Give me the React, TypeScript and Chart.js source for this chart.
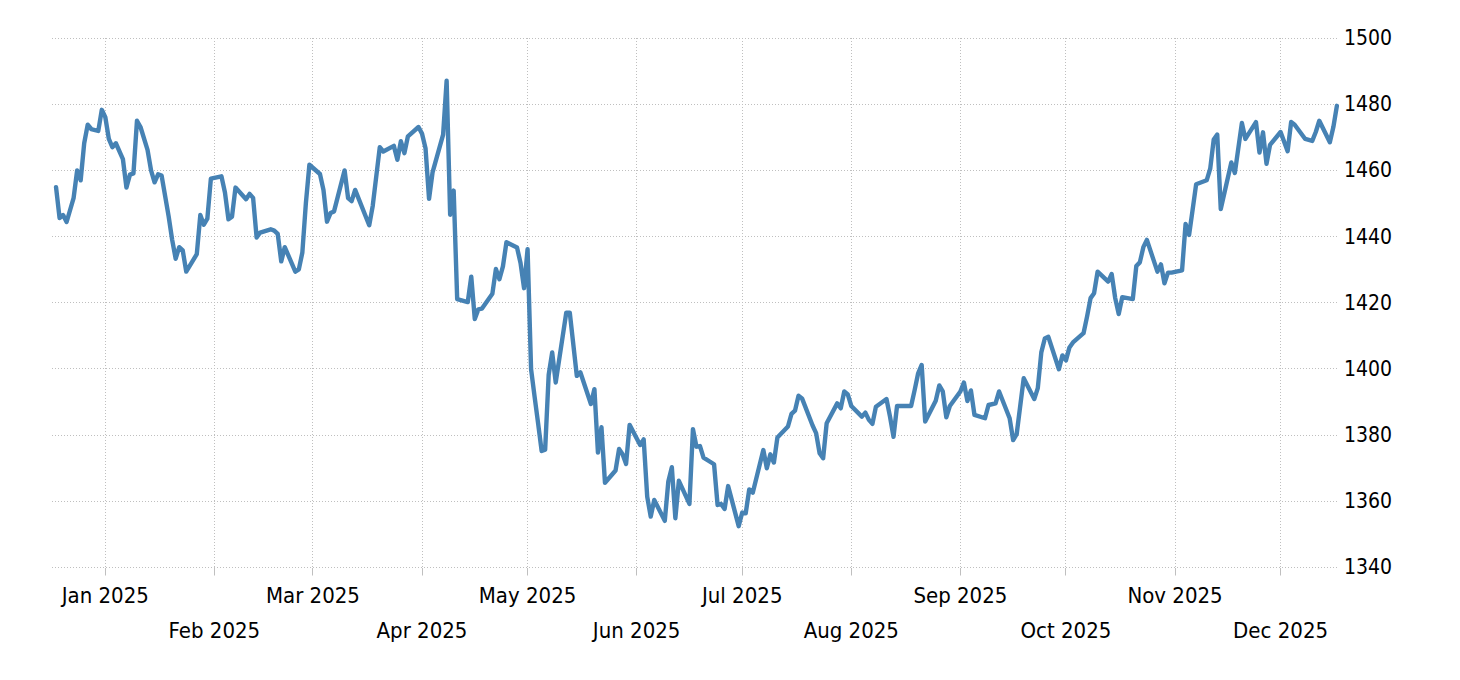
import { useEffect, useRef } from 'react'
import { Chart, registerables } from 'chart.js'

Chart.register(...registerables)

// days counted from 1 Jan 2025
const days = [
  -14, -13, -12, -11, -9, -8, -7, -6, -5, -4, -2, -1, 0, 1, 2, 3, 5, 6, 7, 8, 9, 10, 12, 13, 14, 15, 16, 18, 19, 20,
  21, 22, 23, 26, 27, 28, 29, 30, 33, 34, 35, 36, 37, 40, 41, 42, 43, 44, 47, 48, 49, 50, 51, 54, 55, 56, 57, 58,
  61, 62, 63, 64, 65, 68, 69, 70, 71, 75, 76, 78, 79, 82, 83, 84, 85, 86, 89, 90, 91, 92, 93, 96, 97, 98, 99, 100,
  103, 104, 105, 106, 107, 110, 111, 112, 113, 114, 117, 118, 119, 120, 121, 122, 123, 124, 125, 126, 127, 128,
  131, 132, 134, 135, 138, 139, 140, 141, 142, 145, 146, 147, 148, 149, 152, 153, 154, 155, 156, 159, 160, 161,
  162, 163, 166, 167, 168, 169, 170, 173, 174, 175, 176, 177, 180, 181, 182, 183, 184, 187, 188, 189, 190, 191,
  194, 195, 196, 197, 198, 201, 202, 203, 204, 205, 208, 209, 210, 211, 212, 215, 216, 217, 218, 219, 222, 223,
  224, 225, 229, 230, 231, 232, 233, 236, 237, 238, 239, 240, 243, 244, 245, 246, 247, 250, 251, 253, 254, 257,
  258, 259, 261, 264, 265, 266, 267, 268, 271, 272, 273, 274, 275, 278, 279, 280, 281, 282, 285, 286, 287, 288,
  289, 292, 293, 294, 295, 296, 299, 300, 301, 302, 303, 306, 307, 308, 309, 310, 313, 314, 315, 316, 317, 320,
  321, 323, 324, 327, 328, 329, 330, 331, 334, 336, 337, 338, 341, 343, 344, 345, 348, 349, 350,
]

const prices = [
  1454.9, 1445.6, 1446.5, 1444.4, 1451.7, 1460, 1457, 1468.2, 1473.8, 1472.5, 1471.9, 1478.3, 1476.1, 1469.5,
  1467, 1468.2, 1463.4, 1454.8, 1458.7, 1459.1, 1475, 1473.1, 1466.2, 1460, 1456.4, 1458.8, 1458.4, 1446.1, 1439,
  1433.3, 1436.8, 1435.8, 1429.4, 1434.7, 1446.5, 1443.6, 1445.4, 1457.5, 1458.2, 1453.3, 1445.2, 1446, 1454.8,
  1451.3, 1452.9, 1451.7, 1439.7, 1441.2, 1442.2, 1441.8, 1440.8, 1432.5, 1436.8, 1429.4, 1430.1, 1435.2, 1450.1,
  1461.7, 1458.9, 1454.1, 1444.5, 1447.1, 1447.6, 1460, 1451.6, 1450.7, 1454.1, 1443.4, 1449.3, 1467, 1465.7,
  1467.4, 1463.2, 1468.8, 1465.2, 1470.3, 1473.1, 1471.1, 1466.7, 1451.4, 1459.4, 1470.8, 1487.1, 1446.6, 1453.9,
  1421.1, 1420.2, 1427.9, 1415.1, 1418, 1418.2, 1422.7, 1430.2, 1427.1, 1431, 1438.3, 1436.7, 1432, 1424.4, 1436.2,
  1399.9, 1391.6, 1383.5, 1375.2, 1375.6, 1398.2, 1405, 1395.9, 1417, 1417, 1397.9, 1399, 1389.4, 1393.9, 1374.7,
  1382.4, 1365.6, 1369.3, 1375.8, 1374.2, 1371.3, 1383.1, 1377, 1378.7, 1361.4, 1355.4, 1360.4, 1354.1, 1366,
  1370.3, 1354.9, 1366.2, 1359.2, 1381.8, 1376.5, 1376.7, 1373.2, 1371.2, 1358.9, 1359.2, 1357.7, 1364.6, 1352.5,
  1356.6, 1356.4, 1363.6, 1362.6, 1375.5, 1370, 1374.2, 1371.7, 1379.3, 1382.6, 1386.4, 1387.4, 1391.9, 1391.1,
  1382.9, 1380.6, 1374.5, 1373, 1383.6, 1389.6, 1388.1, 1393.2, 1392.3, 1388.8, 1385.6, 1386.8, 1384.6, 1383.4,
  1388.6, 1390.9, 1385.6, 1379.5, 1388.8, 1388.8, 1393.6, 1398.7, 1401.2, 1384.1, 1390.4, 1395, 1393.2, 1385.4,
  1388.8, 1393.2, 1395.9, 1390.3, 1393.5, 1386.1, 1385.1, 1389.1, 1389.6, 1393.2, 1385.1, 1378.5, 1380.3, 1397.2,
  1390.9, 1394.2, 1405, 1409.2, 1409.7, 1399.9, 1404.1, 1402.6, 1406.5, 1408, 1410.8, 1415.8, 1421.4, 1422.9,
  1429.4, 1426.4, 1428.7, 1421.4, 1416.6, 1421.7, 1421.1, 1431.1, 1432.2, 1436.8, 1439, 1429.4, 1431.6, 1425.9,
  1429.1, 1429.1, 1429.8, 1443.8, 1440.5, 1448.1, 1455.8, 1457, 1460.5, 1469.3, 1470.8, 1448.3, 1462.4, 1459.2,
  1474.3, 1469.5, 1474.6, 1465.4, 1471.5, 1462, 1467.7, 1471.6, 1465.8, 1474.6, 1473.8, 1469.5, 1468.9, 1471.6,
  1475, 1468.5, 1473.1, 1479.5,
]

const monthDays = [0, 31, 59, 90, 120, 151, 181, 212, 243, 273, 304, 334]
const monthLabels = [
  'Jan 2025', 'Feb 2025', 'Mar 2025', 'Apr 2025', 'May 2025', 'Jun 2025',
  'Jul 2025', 'Aug 2025', 'Sep 2025', 'Oct 2025', 'Nov 2025', 'Dec 2025',
]

const gridColor = '#bfbfbf'
const fontFamily = '"DejaVu Sans Condensed", "DejaVu Sans", sans-serif'

const whiteBackground = {
  id: 'whiteBackground',
  beforeDraw(chart: any) {
    const { ctx, width, height } = chart
    ctx.save()
    ctx.fillStyle = '#ffffff'
    ctx.fillRect(0, 0, width, height)
    ctx.restore()
  },
}

const App = () => {
  const canvas = useRef<HTMLCanvasElement>(null)

  useEffect(() => {
    const el = canvas.current as HTMLCanvasElement
    // opaque context so the text gets the same LCD smoothing as the reference
    el.getContext('2d', { alpha: false })
    const chart = new Chart(el, {
      type: 'line',
      data: {
        datasets: [
          {
            data: days.map((d, i) => ({ x: d, y: prices[i] })),
            borderColor: '#4682b4',
            borderWidth: 4.4,
            borderJoinStyle: 'round',
            borderCapStyle: 'round',
            pointRadius: 0,
            tension: 0,
            fill: false,
          },
        ],
      },
      options: {
        responsive: false,
        animation: false,
        layout: { padding: { left: 52, top: 38, right: 0, bottom: 0 } },
        plugins: { legend: { display: false }, tooltip: { enabled: false } },
        scales: {
          x: {
            type: 'linear',
            min: -15.15,
            max: 350.6,
            afterBuildTicks: (scale: any) => {
              scale.ticks = monthDays.map((value) => ({ value }))
            },
            afterFit: (scale: any) => {
              scale.height = 112.5
            },
            border: { display: false, dash: [1, 2] },
            grid: {
              color: gridColor,
              lineWidth: 1,
              tickLength: 8,
              tickColor: gridColor,
              tickBorderDash: [],
            },
            ticks: {
              autoSkip: false,
              maxRotation: 0,
              padding: 4,
              color: '#000000',
              font: { family: fontFamily, size: 22, lineHeight: 35 / 22 },
              callback: (_v: any, i: number) => (i % 2 ? ['', monthLabels[i]] : monthLabels[i]),
            },
          },
          y: {
            type: 'linear',
            position: 'right',
            min: 1340,
            max: 1500,
            afterFit: (scale: any) => {
              scale.width = 121
            },
            border: { display: false, dash: [1, 2] },
            grid: {
              color: gridColor,
              lineWidth: 1,
              drawTicks: false,
            },
            ticks: {
              stepSize: 20,
              padding: 5,
              labelOffset: 1.5,
              color: '#000000',
              font: { family: fontFamily, size: 21 },
              callback: (v: any) => String(v),
            },
          },
        },
      },
      plugins: [whiteBackground],
    } as any)
    return () => chart.destroy()
  }, [])

  return (
    <div style={{ position: 'absolute', left: 0, top: 0, width: 1460, height: 680 }}>
      <canvas ref={canvas} width={1460} height={680} style={{ display: 'block' }}></canvas>
    </div>
  )
}

export default App
